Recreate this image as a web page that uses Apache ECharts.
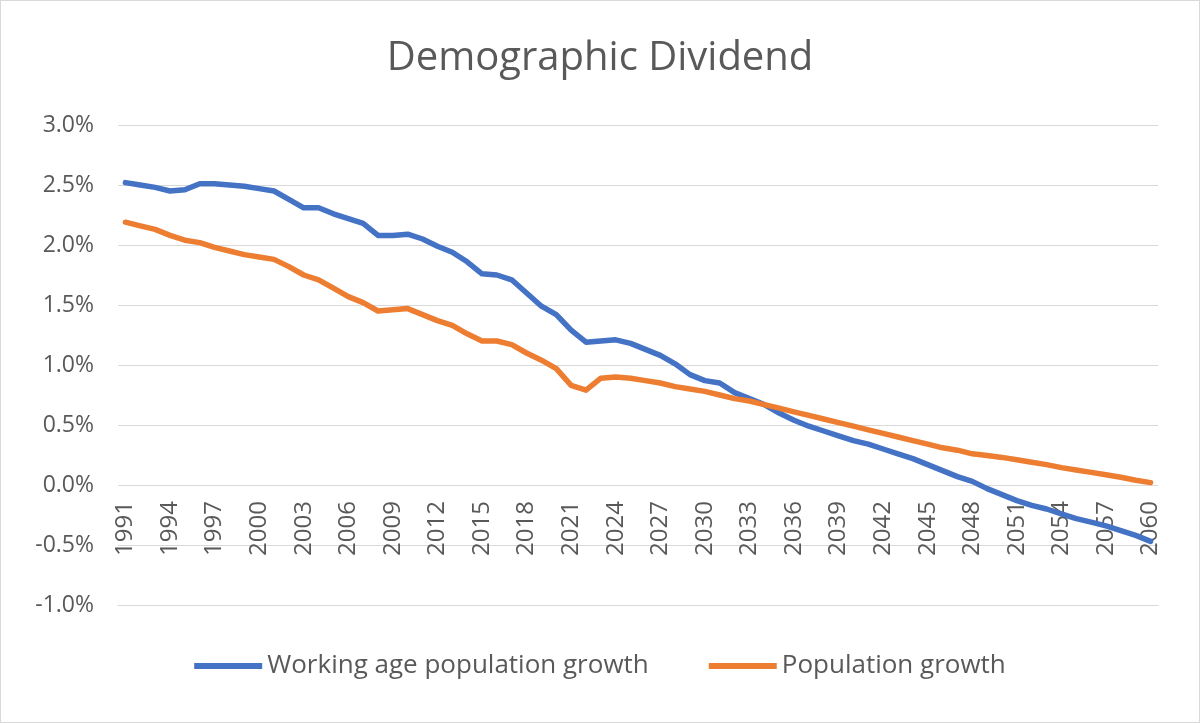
<!DOCTYPE html>
<html>
<head>
<meta charset="utf-8">
<script src="https://cdn.jsdelivr.net/npm/echarts@6/dist/echarts.min.js"></script>
<style>
  html, body { margin: 0; padding: 0; background: #fff; }
  #chart {
    width: 1200px;
    height: 723px;
    box-sizing: border-box;
    border: 1px solid #d9d9d9;
  }
</style>
</head>
<body>
<div id="chart"></div>
<script>
const years = [
  '1991', '1992', '1993', '1994', '1995', '1996', '1997', '1998', '1999', '2000',
  '2001', '2002', '2003', '2004', '2005', '2006', '2007', '2008', '2009', '2010',
  '2011', '2012', '2013', '2014', '2015', '2016', '2017', '2018', '2019', '2020',
  '2021', '2022', '2023', '2024', '2025', '2026', '2027', '2028', '2029', '2030',
  '2031', '2032', '2033', '2034', '2035', '2036', '2037', '2038', '2039', '2040',
  '2041', '2042', '2043', '2044', '2045', '2046', '2047', '2048', '2049', '2050',
  '2051', '2052', '2053', '2054', '2055', '2056', '2057', '2058', '2059', '2060'
]

// growth rates in percent
const workingAgeGrowth = [
  2.52, 2.50, 2.48, 2.45, 2.46, 2.51, 2.51, 2.50, 2.49, 2.47,
  2.45, 2.38, 2.31, 2.31, 2.26, 2.22, 2.18, 2.08, 2.08, 2.09,
  2.05, 1.99, 1.94, 1.86, 1.76, 1.75, 1.71, 1.60, 1.49, 1.42,
  1.29, 1.19, 1.20, 1.21, 1.18, 1.13, 1.08, 1.01, 0.92, 0.87,
  0.85, 0.77, 0.72, 0.67, 0.60, 0.54, 0.49, 0.45, 0.41, 0.37,
  0.34, 0.30, 0.26, 0.22, 0.17, 0.12, 0.07, 0.03, -0.03, -0.08,
  -0.13, -0.17, -0.20, -0.24, -0.28, -0.31, -0.34, -0.38, -0.42, -0.47
]

const populationGrowth = [
  2.19, 2.16, 2.13, 2.08, 2.04, 2.02, 1.98, 1.95, 1.92, 1.90,
  1.88, 1.82, 1.75, 1.71, 1.64, 1.57, 1.52, 1.45, 1.46, 1.47,
  1.42, 1.37, 1.33, 1.26, 1.20, 1.20, 1.17, 1.10, 1.04, 0.97,
  0.83, 0.79, 0.89, 0.90, 0.89, 0.87, 0.85, 0.82, 0.80, 0.78,
  0.75, 0.72, 0.70, 0.67, 0.64, 0.61, 0.58, 0.55, 0.52, 0.49,
  0.46, 0.43, 0.40, 0.37, 0.34, 0.31, 0.29, 0.26, 0.245, 0.23,
  0.21, 0.19, 0.17, 0.145, 0.125, 0.105, 0.085, 0.065, 0.04, 0.02
]

const seriesNames = ['Working age population growth', 'Population growth']
const colors = ['#4472C4', '#ED7D31']

const chart = echarts.init(document.getElementById('chart'))

const textColor = '#595959'
const fontFamily = '"Open Sans", sans-serif'

const option = {
  animation: false,
  color: colors,
  title: {
    text: 'Demographic Dividend',
    left: 'center',
    top: 33,
    textStyle: {
      color: textColor,
      fontFamily: fontFamily,
      fontWeight: 'normal',
      fontSize: 40
    }
  },
  legend: {
    bottom: 38,
    left: 'center',
    icon: 'rect',
    itemWidth: 68,
    itemHeight: 6,
    itemGap: 60,
    textStyle: {
      color: textColor,
      fontFamily: fontFamily,
      fontSize: 26
    }
  },
  grid: {
    left: 117,
    right: 41,
    top: 124,
    bottom: 117
  },
  xAxis: {
    type: 'category',
    data: years,
    boundaryGap: true,
    // axis sits at the bottom; labels are pulled up so they hang from the 0% line
    axisLine: { onZero: false, lineStyle: { color: '#d9d9d9', width: 1 } },
    axisTick: { show: false },
    axisLabel: {
      interval: 2,
      rotate: 90,
      margin: -104,
      color: textColor,
      fontFamily: fontFamily,
      fontSize: 24
    },
    splitLine: { show: false }
  },
  yAxis: {
    type: 'value',
    min: -1,
    max: 3,
    interval: 0.5,
    axisLine: { show: false },
    axisTick: { show: false },
    axisLabel: {
      margin: 24,
      color: textColor,
      fontFamily: fontFamily,
      fontSize: 23,
      formatter: v => v.toFixed(1) + '%'
    },
    splitLine: { lineStyle: { color: '#d9d9d9', width: 1 } }
  },
  series: [
    {
      name: seriesNames[0],
      type: 'line',
      data: workingAgeGrowth,
      showSymbol: false,
      lineStyle: { width: 5.5, cap: 'round', join: 'round' }
    },
    {
      name: seriesNames[1],
      type: 'line',
      data: populationGrowth,
      showSymbol: false,
      lineStyle: { width: 5.5, cap: 'round', join: 'round' }
    }
  ]
}

chart.setOption(option)
</script>
</body>
</html>
